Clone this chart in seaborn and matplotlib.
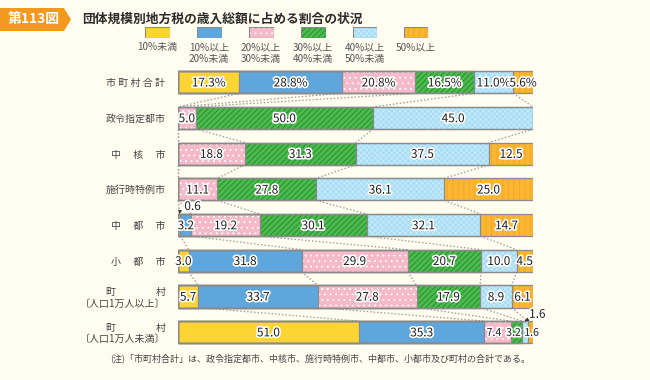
import numpy as np
import pandas as pd
import matplotlib
matplotlib.use("Agg")
import matplotlib.pyplot as plt
import matplotlib.patheffects as pe
from matplotlib.patches import Polygon
import seaborn as sns

rows = ["市町村合計", "政令指定都市", "中核市", "施行時特例市", "中都市", "小都市",
        "町村(人口1万人以上)", "町村(人口1万人未満)"]
row_labels = ["市 町 村 合 計", "政令指定都市", "中　 核　 市", "施行時特例市",
              "中　 都　 市", "小　 都　 市",
              "町　　　　村\n〔人口1万人以上〕", "町　　　　村\n〔人口1万人未満〕"]
categories = ["10%未満", "10%以上\n20%未満", "20%以上\n30%未満",
              "30%以上\n40%未満", "40%以上\n50%未満", "50%以上"]
v_lt10 = [17.3, 0.0, 0.0, 0.0, 0.6, 3.0, 5.7, 51.0]
v_10_20 = [28.8, 0.0, 0.0, 0.0, 3.2, 31.8, 33.7, 35.3]
v_20_30 = [20.8, 5.0, 18.8, 11.1, 19.2, 29.9, 27.8, 7.4]
v_30_40 = [16.5, 50.0, 31.3, 27.8, 30.1, 20.7, 17.9, 3.2]
v_40_50 = [11.0, 45.0, 37.5, 36.1, 32.1, 10.0, 8.9, 1.6]
v_ge50 = [5.6, 0.0, 12.5, 25.0, 14.7, 4.5, 6.1, 1.6]

series = [v_lt10, v_10_20, v_20_30, v_30_40, v_40_50, v_ge50]
faces = ["#FCD535", "#5FA6DC", "#F6B9CA", "#4DBA4E", "#A8DDF6", "#FBB734"]
hatch_cols = [None, None, "#FFFFFF", "#1F8A2A", "#C9ECFB", "#F4A522"]
hatches = [None, None, "...", "//////", "xxxxxx", "|||"]
edge_col = "#8A8A8A"
bg = "#FFFDF0"

sns.set_theme(style="white")
plt.rcParams["font.family"] = ["Noto Sans CJK JP", "DejaVu Sans"]
plt.rcParams["hatch.linewidth"] = 0.6

vals = np.array(series).T  # rows x cats
cum = np.cumsum(vals, axis=1)
left = cum - vals

fig = plt.figure(figsize=(6.5, 3.8), dpi=100)
fig.patch.set_facecolor(bg)
ax = fig.add_axes([178 / 650, 1 - 350 / 380, 355 / 650, 285.6 / 380])
ax.set_facecolor(bg)

# fill layers: draw cumulative bars from longest to shortest
for j in range(5, -1, -1):
    df = pd.DataFrame({"row": rows, "v": cum[:, j]})
    n0 = len(ax.patches)
    sns.barplot(data=df, x="v", y="row", orient="h", color=faces[j],
                width=0.62, ax=ax, linewidth=0, saturation=1)
    for p in ax.patches[n0:]:
        p.set_facecolor(faces[j])
        if hatches[j]:
            p.set_hatch(hatches[j])
            p.set_edgecolor(hatch_cols[j])
            p.set_linewidth(0)
# outline layers
for j in range(5, -1, -1):
    df = pd.DataFrame({"row": rows, "v": cum[:, j]})
    n0 = len(ax.patches)
    sns.barplot(data=df, x="v", y="row", orient="h", width=0.62, ax=ax,
                fill=False, color=edge_col, linewidth=0.9)
    for p in ax.patches[n0:]:
        p.set_facecolor("none")
        p.set_edgecolor(edge_col)

ax.set_xlim(0, 100)
ax.set_ylim(7.5, -0.5)

# connector dotted lines
hh = 0.31
for i in range(len(rows) - 1):
    for k in range(0, 5):
        ax.plot([cum[i, k], cum[i + 1, k]], [i + hh, i + 1 - hh],
                ls=(0, (1.2, 1.6)), color="#9A9A9A", lw=0.9, zorder=0.5,
                clip_on=False)

stroke = [pe.withStroke(linewidth=2.4, foreground="white")]
skip = {(4, 0), (7, 4)}
nudge = {(7, 2): -1.0, (7, 3): -0.8, (7, 5): 0.3}
for i in range(len(rows)):
    for j in range(6):
        v = vals[i, j]
        if v <= 0 or (i, j) in skip:
            continue
        txt = f"{v:.1f}%" if i == 0 else f"{v:.1f}"
        fs = 7.6 if i == 7 and j >= 2 else 8.5
        ax.text(left[i, j] + v / 2 + nudge.get((i, j), 0), i + 0.02, txt,
                ha="center", va="center", fontsize=fs, color="#1E1E1E",
                path_effects=stroke, zorder=5)

# small-value callouts
ax.annotate("0.6", xy=(0.3, 4 - 0.31), xytext=(1.8, 4 - 0.52),
            fontsize=8.5, color="#1E1E1E", ha="left", va="center",
            path_effects=stroke,
            arrowprops=dict(arrowstyle="-|>", color="#333333", lw=0.6,
                            mutation_scale=5, shrinkA=1, shrinkB=0,
                            connectionstyle="arc3,rad=0.5"))
ax.annotate("1.6", xy=(cum[7, 4] - 0.8, 7 - 0.31), xytext=(cum[7, 4] + 0.4, 6.5),
            fontsize=8.5, color="#1E1E1E", ha="left", va="center",
            path_effects=stroke,
            arrowprops=dict(arrowstyle="-|>", color="#333333", lw=0.6,
                            mutation_scale=5, shrinkA=1, shrinkB=0))

ax.set_yticks(range(len(rows)))
ax.set_yticklabels(row_labels, fontsize=7.2, color="#444444", linespacing=1.15)
ax.tick_params(axis="y", length=0, pad=9)
ax.set_xticks([])
ax.set_xlabel("")
ax.set_ylabel("")
for s in ax.spines.values():
    s.set_visible(False)

# title badge
badge = Polygon([[0, 1 - 8 / 380], [64 / 650, 1 - 8 / 380], [71 / 650, 1 - 19.5 / 380],
                 [64 / 650, 1 - 31 / 380], [0, 1 - 31 / 380]], closed=True,
                transform=fig.transFigure, facecolor="#F39A1E", edgecolor="none")
fig.patches.append(badge)
fig.text(8 / 650, 1 - 19.5 / 380, "第113図", fontsize=10, color="white",
         fontweight="bold", va="center", ha="left")
fig.text(82 / 650, 1 - 19.5 / 380, "団体規模別地方税の歳入総額に占める割合の状況",
         fontsize=9.2, color="#2A2A2A", fontweight="bold", va="center", ha="left")

# legend
leg_cx = [157, 209, 261, 313, 365, 416]
for j in range(6):
    lax = fig.add_axes([(leg_cx[j] - 12.5) / 650, 1 - 38 / 380, 25 / 650, 11 / 380])
    lax.set_xlim(0, 1)
    lax.set_ylim(0, 1)
    lax.axis("off")
    kw = dict(facecolor=faces[j], edgecolor=edge_col, linewidth=0.8)
    lax.add_patch(plt.Rectangle((0, 0), 1, 1, **kw))
    if hatches[j]:
        lax.add_patch(plt.Rectangle((0, 0), 1, 1, facecolor="none",
                                    edgecolor=hatch_cols[j], linewidth=0,
                                    hatch=hatches[j]))
        lax.add_patch(plt.Rectangle((0, 0), 1, 1, facecolor="none",
                                    edgecolor=edge_col, linewidth=0.8))
    fig.text(leg_cx[j] / 650, 1 - 42 / 380, categories[j], fontsize=7.2,
             color="#555555", ha="center", va="top", linespacing=1.3)

fig.text(110 / 650, 1 - 358 / 380,
         "(注)「市町村合計」は、政令指定都市、中核市、施行時特例市、中都市、小都市及び町村の合計である。",
         fontsize=6.5, color="#444444", ha="left", va="center")

fig.savefig("out.png", dpi=100, facecolor=bg)
